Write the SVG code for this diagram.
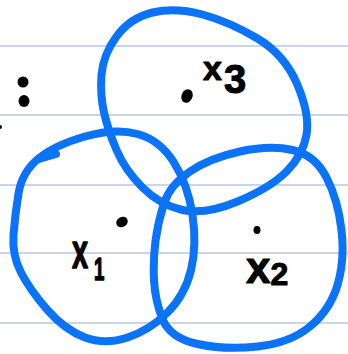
<svg xmlns="http://www.w3.org/2000/svg" width="348" height="354" viewBox="0 0 348 354">
<style>
.rule{stroke:#b6c7e3;stroke-width:1.5}
.ring{fill:none;stroke:#0a73f7;stroke-width:8;stroke-linecap:round;stroke-linejoin:round}
.ink{fill:#000}
.lbl{font-family:"Liberation Sans",Arial,sans-serif;font-weight:bold;fill:#000;stroke:#000;stroke-width:1;stroke-linejoin:round}
</style>
<rect width="348" height="354" fill="#fff"/>
<g id="paper">
<line class="rule" x1="0" y1="46" x2="348" y2="46"/>
<line class="rule" x1="0" y1="115" x2="348" y2="115"/>
<line class="rule" x1="0" y1="185" x2="348" y2="185"/>
<line class="rule" x1="0" y1="253" x2="348" y2="253"/>
<line class="rule" x1="0" y1="323" x2="348" y2="323"/>
<ellipse class="ink" cx="23" cy="82" rx="5.5" ry="5.5"/>
<ellipse class="ink" cx="24" cy="101" rx="5.5" ry="6"/>
<circle class="ink" cx="0" cy="127" r="2"/>
</g>
<g id="connectors"></g>
<g id="node-x3">
<path class="ring" d="M101.5,75 Q103,55 116.5,36.5 Q130,18 152.5,12.5 Q175,7 202.5,14.5 Q230,22 257.5,38.5 Q285,55 297.5,85 Q310,115 306.5,135 Q303,155 286.5,171.5 Q270,188 237.5,201.5 Q205,215 182.5,210 Q160,205 142.5,187.5 Q125,170 116.5,150 Q108,130 104,112.5 Q100,95 101.5,75 Z"/>
<ellipse class="ink" cx="187" cy="96" rx="5.5" ry="7" transform="rotate(25 187 96)"/>
<text class="lbl" x="203" y="80" font-size="34">x<tspan dx="2" dy="13" font-size="40">3</tspan></text>
</g>
<g id="node-x1">
<path class="ring" d="M18.5,193.5 Q22,172 38.5,158.5 Q55,145 85,136.5 Q115,128 137.5,134 Q160,140 174,162.5 Q188,185 192.5,215 Q197,245 191,270 Q185,295 167.5,312.5 Q150,330 127.5,337.5 Q105,345 85,337.5 Q65,330 47.5,310 Q30,290 21,272.5 Q12,255 13.5,235 Q15,215 18.5,193.5 Z"/>
<path class="ring" d="M39,159 L56,154"/>
<ellipse class="ink" cx="122" cy="222" rx="6" ry="5" transform="rotate(-30 122 222)"/>
<text class="lbl" transform="translate(72,268) scale(0.85,1.4)" font-size="34">x<tspan x="26" dy="8.6" font-size="22">1</tspan></text>
</g>
<g id="node-x2">
<path class="ring" d="M164,203.5 Q170,185 190,171.5 Q210,158 240,151.5 Q270,145 292.5,150 Q315,155 326.5,177.5 Q338,200 341.5,230 Q345,260 337.5,285 Q330,310 310,326.5 Q290,343 257.5,346.5 Q225,350 197.5,344 Q170,338 162.5,319 Q155,300 154,280 Q153,260 155.5,241 Q158,222 164,203.5 Z"/>
<ellipse class="ink" cx="257" cy="230" rx="3.5" ry="4"/>
<text class="lbl" x="246" y="283" font-size="44">x<tspan dy="2" font-size="32">2</tspan></text>
</g>
</svg>
